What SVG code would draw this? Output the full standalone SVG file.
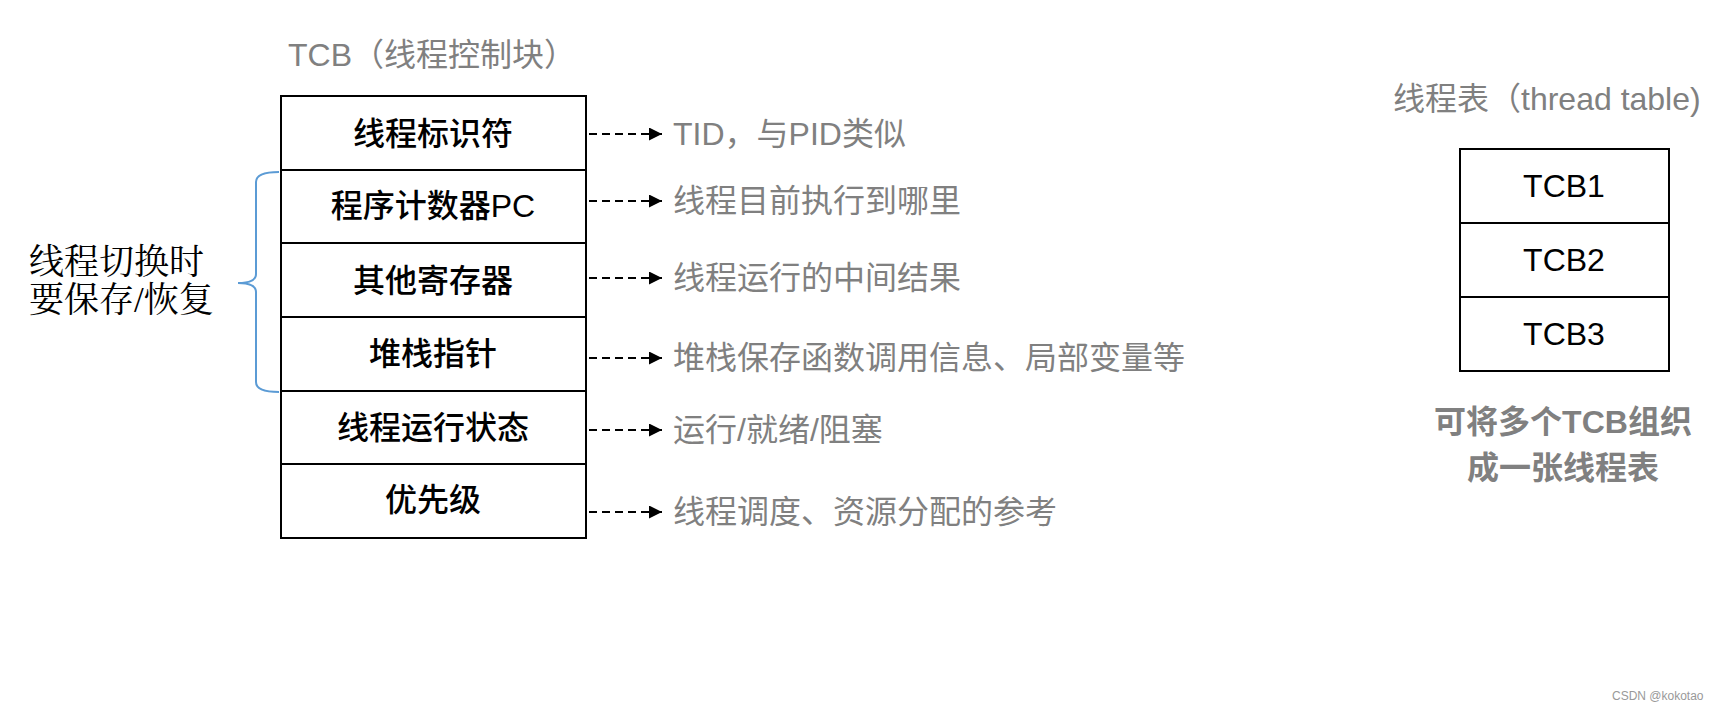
<svg xmlns="http://www.w3.org/2000/svg" width="1720" height="709" viewBox="0 0 1720 709">
<defs>
<style>
.t{font-family:"Liberation Sans","Noto Sans CJK SC",sans-serif;font-size:32px}
.b{fill:#000;font-weight:500}
.g{fill:#808080}
.box{fill:#fff;stroke:#000;stroke-width:2}
.c{stroke:#000;stroke-width:2;stroke-dasharray:8,5;fill:none}
</style>
<marker id="ah" viewBox="0 0 10 10" refX="10" refY="5" markerWidth="13" markerHeight="13" markerUnits="userSpaceOnUse" orient="auto"><path d="M0,0L10,5L0,10z" fill="#000"/></marker>
</defs>
<rect width="1720" height="709" fill="#fff"/>
<text class="t g" x="288" y="66">TCB（线程控制块）</text>
<g id="tcb">
<rect class="box" x="281" y="96" width="305" height="442"/>
<g stroke="#000" stroke-width="2"><line x1="281" y1="170" x2="586" y2="170"/><line x1="281" y1="243" x2="586" y2="243"/><line x1="281" y1="317" x2="586" y2="317"/><line x1="281" y1="391" x2="586" y2="391"/><line x1="281" y1="464" x2="586" y2="464"/></g>
<g class="t b" text-anchor="middle">
<text x="433" y="145">线程标识符</text>
<text x="433" y="217">程序计数器PC</text>
<text x="433" y="292">其他寄存器</text>
<text x="433" y="365">堆栈指针</text>
<text x="433" y="439">线程运行状态</text>
<text x="433" y="511">优先级</text>
</g>
</g>
<g id="connectors">
<line class="c" x1="589" y1="134" x2="662" y2="134" marker-end="url(#ah)"/>
<line class="c" x1="589" y1="201" x2="662" y2="201" marker-end="url(#ah)"/>
<line class="c" x1="589" y1="278" x2="662" y2="278" marker-end="url(#ah)"/>
<line class="c" x1="589" y1="358" x2="662" y2="358" marker-end="url(#ah)"/>
<line class="c" x1="589" y1="430" x2="662" y2="430" marker-end="url(#ah)"/>
<line class="c" x1="589" y1="512" x2="662" y2="512" marker-end="url(#ah)"/>
</g>
<g id="labels" class="t g">
<text x="673" y="145">TID，与PID类似</text>
<text x="673" y="212">线程目前执行到哪里</text>
<text x="673" y="289">线程运行的中间结果</text>
<text x="673" y="369">堆栈保存函数调用信息、局部变量等</text>
<text x="673" y="441">运行/就绪/阻塞</text>
<text x="673" y="523">线程调度、资源分配的参考</text>
</g>
<g id="brace"><path d="M279,172 Q256,172 256,182 L256,274 Q256,283 238,283 Q256,283 256,292 L256,382 Q256,392 279,392" fill="none" stroke="#5b9bd5" stroke-width="2"/></g>
<g id="note" font-family="Liberation Serif,Noto Serif CJK SC,Noto Sans CJK SC,serif" font-size="35" fill="#000">
<text x="29" y="274">线程切换时</text>
<text x="29" y="312">要保存/恢复</text>
</g>
<text class="t g" x="1393" y="110" font-size="33">线程表（thread table)</text>
<g id="table">
<rect class="box" x="1460" y="149" width="209" height="222"/>
<line x1="1460" y1="223" x2="1669" y2="223" stroke="#000" stroke-width="2"/>
<line x1="1460" y1="297" x2="1669" y2="297" stroke="#000" stroke-width="2"/>
<g class="t b" text-anchor="middle"><text x="1564" y="197">TCB1</text><text x="1564" y="271">TCB2</text><text x="1564" y="345">TCB3</text></g>
</g>
<g class="t g" text-anchor="middle" font-weight="bold"><text x="1563" y="433">可将多个TCB组织</text><text x="1563" y="479">成一张线程表</text></g>
<text x="1612" y="700" font-family="Liberation Sans,sans-serif" font-size="12" fill="#999">CSDN @kokotao</text>
</svg>
